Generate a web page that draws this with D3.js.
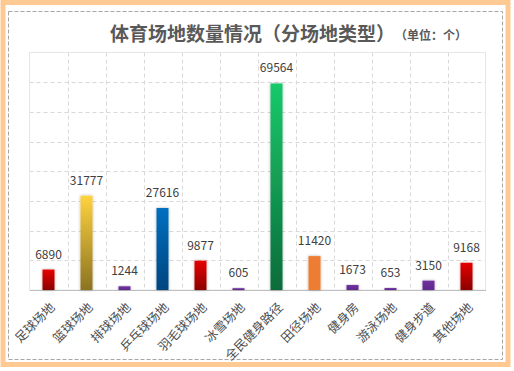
<!DOCTYPE html>
<html><head><meta charset="utf-8">
<script src="https://cdn.jsdelivr.net/npm/d3@7/dist/d3.min.js"></script>
<style>html,body{margin:0;padding:0;background:#fff;}svg{display:block;}</style>
</head><body><svg id="c" width="514" height="371"></svg>
<script>
const categories = ['足球场地','篮球场地','排球场地','乒乓球场地','羽毛球场地','冰雪场地','全民健身路径','田径场地','健身房','游泳场地','健身步道','其他场地'];
const values = [6890,31777,1244,27616,9877,605,69564,11420,1673,653,3150,9168];
const topColors = ['#E60000','#FFD23F','#7030A0','#0070C0','#E60000','#7030A0','#19C96B','#ED7D31','#7030A0','#7030A0','#7030A0','#E60000'];
const bottomColors = ['#8B0000','#8B7322','#5E2A8C','#00457F','#8B0000','#5E2A8C','#0B6B3A','#ED7D31','#5E2A8C','#5E2A8C','#5E2A8C','#8B0000'];
const yTicks = [0,10000,20000,30000,40000,50000,60000,70000,80000];
const title = '体育场地数量情况（分场地类型）';
const unit = '（单位：个）';

const svg = d3.select('#c');
const font = '"Noto Sans CJK SC","Microsoft YaHei",sans-serif';
const defs = svg.append('defs');
const f = defs.append('filter').attr('id','sh').attr('x','-50%').attr('y','-20%').attr('width','200%').attr('height','140%');
f.append('feDropShadow').attr('dx',0).attr('dy',0).attr('stdDeviation',1.5).attr('flood-color','#000').attr('flood-opacity',0.3);
categories.forEach((c,i)=>{
  const g = defs.append('linearGradient').attr('id','g'+i).attr('x1',0).attr('y1',0).attr('x2',0).attr('y2',1);
  g.append('stop').attr('offset','0%').attr('stop-color',topColors[i]);
  g.append('stop').attr('offset','100%').attr('stop-color',bottomColors[i]);
});

// outer borders
svg.append('rect').attr('x',3).attr('y',2.5).attr('width',505).attr('height',362).attr('fill','#fff').attr('stroke','#FFC994').attr('stroke-width',5);
svg.append('rect').attr('x',8.5).attr('y',11.5).attr('width',494).attr('height',348).attr('fill','none').attr('stroke','#A6A6A6').attr('stroke-width',1).attr('stroke-dasharray','4,2');

const L=29.5,R=485.5,T=52.5,B=290;
const x = d3.scaleBand().domain(categories).range([L,R]).padding(0);
const y = d3.scaleLinear().domain([0,80000]).range([B,T]);

// grid
const grid = svg.append('g');
grid.selectAll('.h').data(yTicks.filter(v=>v>0 && v<80000)).enter().append('line')
  .attr('x1',L).attr('x2',R).attr('y1',d=>Math.round(y(d))+0.5).attr('y2',d=>Math.round(y(d))+0.5)
  .attr('stroke','#D9D9D9').attr('stroke-dasharray','4,3');
grid.selectAll('.v').data(categories.slice(1)).enter().append('line')
  .attr('x1',d=>Math.round(x(d))+0.5).attr('x2',d=>Math.round(x(d))+0.5).attr('y1',T).attr('y2',B)
  .attr('stroke','#D9D9D9').attr('stroke-dasharray','4,3');
svg.append('rect').attr('x',L).attr('y',T).attr('width',R-L).attr('height',B-T).attr('fill','none').attr('stroke','#E6E6E6');

// axis
const xa = svg.append('g').attr('transform',`translate(0,${B})`).call(d3.axisBottom(x).tickSize(0).tickPadding(0));
xa.select('.domain').attr('stroke','#BFBFBF');
xa.selectAll('text').attr('font-family',font).attr('font-size',12.5).attr('fill','#4d4d4d')
  .attr('text-anchor','end').attr('dy','0.35em')
  .attr('transform','translate(4,15) rotate(-45)');

// bars
const bw = 12;
svg.append('g').selectAll('rect').data(values).enter().append('rect')
  .attr('x',(d,i)=>x(categories[i])+x.bandwidth()/2-bw/2).attr('width',bw)
  .attr('y',d=>y(d)).attr('height',d=>B-y(d))
  .attr('fill',(d,i)=>`url(#g${i})`).attr('filter','url(#sh)');

svg.append('g').selectAll('text').data(values).enter().append('text')
  .attr('x',(d,i)=>x(categories[i])+x.bandwidth()/2).attr('y',d=>y(d)-11)
  .attr('text-anchor','middle').attr('font-family',font).attr('font-size',12).attr('fill','#404040')
  .text(d=>d);

svg.append('text').attr('x',110).attr('y',41).attr('font-family',font).attr('font-size',19).attr('font-weight','bold').attr('fill','#595959').text(title);
svg.append('text').attr('x',395).attr('y',40).attr('font-family',font).attr('font-size',12).attr('font-weight','bold').attr('fill','#595959').text(unit);
</script></body></html>
